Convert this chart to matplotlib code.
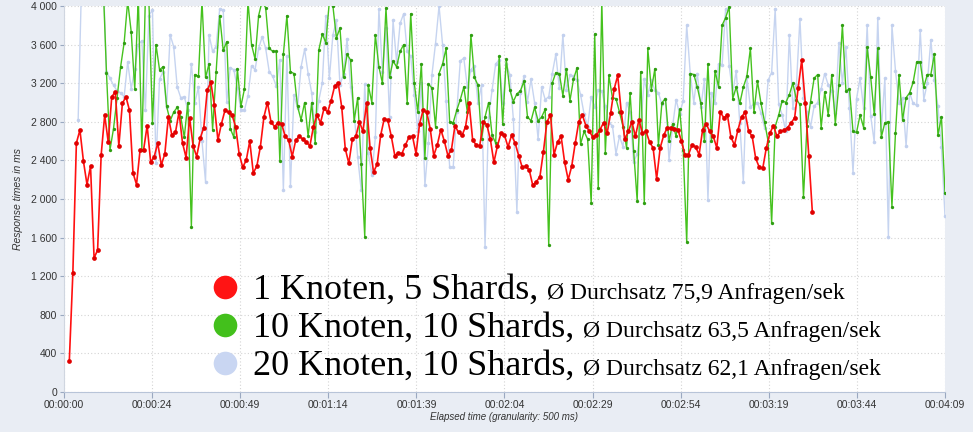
import numpy as np
import matplotlib
matplotlib.use('Agg')
import matplotlib.pyplot as plt

#------------------------------DATA (response times in ms, one value per second)------------------------------
red_start = 1.5   # seconds
red_ms = [320, 1230, 2580, 2715, 2390, 2150, 2340, 1390, 1470, 2455, 2870, 2590, 3060, 3110, 2550, 2990, 3060,
          2920, 2270, 2150, 2510, 2510, 2760, 2380, 2440, 2580, 2350, 2470, 2850, 2660, 2690, 2900, 2580, 2430, 2840,
          2550, 2440, 2630, 2740, 3130, 3210, 2970, 2610, 2780, 2920, 2900, 2870, 2750, 2470, 2330, 2400, 2600, 2270,
          2340, 2540, 2850, 3000, 2800, 2750, 2790, 2780, 2650, 2610, 2440, 2610, 2650, 2620, 2590, 2550, 2750,
          2870, 2790, 2940, 2900, 3020, 3170, 3200, 2950, 2520, 2370, 2620, 2650, 2800, 2700, 2990, 2530, 2280, 2360,
          2660, 2830, 2820, 2650, 2450, 2480, 2470, 2560, 2640, 2650, 2470, 2780, 2920, 2900, 2730, 2450, 2560,
          2720, 2600, 2450, 2510, 2760, 2690, 2660, 2750, 2990, 2610, 2560, 2550, 2800, 2770, 2620, 2380, 2550, 2680,
          2660, 2540, 2660, 2580, 2450, 2330, 2340, 2300, 2140, 2180, 2230, 2490, 2800, 2870, 2460, 2590, 2650,
          2380, 2200, 2340, 2580, 2800, 2870, 2760, 2700, 2640, 2660, 2720, 2790, 2680, 2890, 3140, 3280, 2900, 2620,
          2700, 2800, 2650, 2820, 2680, 2700, 2590, 2530, 2210, 2530, 2660, 2740, 2740, 2730, 2720, 2600, 2460,
          2460, 2560, 2540, 2460, 2720, 2780, 2700, 2650, 2530, 2900, 2840, 2870, 2640, 2560, 2720, 2850, 2900, 2700,
          2650, 2420, 2330, 2320, 2530, 2680, 2760, 2650, 2700, 2710, 2740, 2790, 2840, 3150, 3440, 3000, 2450, 1870]

green_start = 11
green_ms = [4300, 3310, 2510, 2730, 3050, 3370, 3620, 4050, 3730, 3140, 4100, 2510, 4100, 4050, 2790, 3600, 3340,
            3370, 2960, 2810, 2900, 2950, 2850, 2640, 3000,
            1710, 3290, 3270, 4050, 3260, 3400, 2720, 3320, 3900, 3540, 3630, 2730, 2640, 3350, 2960, 3140, 4050,
            3600, 3450, 3900, 4050, 3980, 3560, 3530, 3530, 2390, 3500, 3900, 3320, 3300, 2960, 2820, 3000, 2650, 3000,
            2580, 3540, 3710, 3620, 4050, 4000, 3670, 3770, 3260, 3500, 3440, 2810, 3050, 2360, 1610, 3180, 3000,
            3700, 3370, 3200, 3980, 3260, 3430, 3370, 3530, 3600, 3000, 3920, 3200, 2900, 3400, 2430, 3190, 3150, 2750,
            3300, 3400, 3560, 2800, 2790, 2920, 3030, 3160, 2900, 3700, 3260, 3180, 2620, 2850, 3000, 2660, 2580,
            3480, 2780, 3450, 3130, 3010, 3090, 3120, 3220, 2850, 2810, 2950, 2810, 2850, 2930, 1520, 3200, 3310,
            3300, 3070,
            3350, 3020, 3240, 3360, 2570, 2700, 2620, 1960, 3710, 2110, 4050, 2480, 3280, 3050, 3040, 2900, 2750,
            2530, 3100, 2500, 1980, 3320, 1960, 3560, 3130, 3350, 2560, 3000, 3040, 2600, 2780, 2650, 2930, 2510, 1550,
            3300, 3290, 3160, 2990, 2600, 3400, 2600, 3330, 3160, 3800, 3880, 3990, 3040, 3160, 2990, 3160, 3270,
            3560, 2900, 3220, 2990, 2800, 2600, 1750, 2750, 2870, 3020, 3000, 3080, 3200, 3030, 2980, 2020, 2760,
            3010, 3250,
            3290, 2740, 3110, 2870, 3290, 2780, 3180, 3800, 3120, 3140, 2700, 2690, 2870, 2740, 3570, 3260, 2880,
            3560, 2640, 2790, 2800, 1920, 2680, 3290, 2820, 3050, 3100, 3210, 3420, 3420, 3160, 3290, 3290, 3500,
            2660, 2850, 2060]

blue_start = 4
blue_ms = [2820, 4300, 4400, 4400, 4400, 4400, 4400, 4400, 3320, 3250, 3180, 3120, 3100, 3060, 3420, 3140, 3350,
           3600, 3640, 2920, 3900, 3960, 2370, 3240, 3320, 2950, 3700, 3580, 3160, 3050, 3060, 2920,
           3400, 3000, 3160, 2600, 2180, 3700, 3530, 3580, 3970, 3960, 3010, 3360, 3340, 3150, 2920, 2920, 3070,
           3380, 3340, 3560, 3680, 3560, 3320, 3270, 3170, 3440, 2090, 3480, 2130, 3080, 2940, 3370, 3550, 3300, 3100,
           2690, 3020, 3200, 3900, 3250, 3700, 3850, 3180, 3300, 3660, 3160, 2900, 2440, 2090, 3190, 2480, 2250,
           2640, 3970, 3320, 3770, 2850, 3850, 3420, 3820, 3920, 3530, 3480, 3080, 2700, 3200, 2140, 2580, 3290, 3610,
           4000, 3600, 3020, 2330, 2330, 2900, 3430, 3460, 3160, 3340, 3380, 2990, 3180, 1500, 2850, 3130, 3400,
           3440, 2990, 3400, 3290, 2830, 1870, 3100, 3270, 3010, 3240, 3000, 2620, 3160, 3030, 3060, 3300, 3500,
           3150, 3700,
           3130, 3280, 3270, 3230, 3080, 2880, 2750, 3060, 2950, 3130, 3120, 2960, 2790, 2760, 2470, 2650, 2540,
           3000, 2900, 2380, 2470, 2750, 3240, 3080, 3230, 3130, 3100, 2980, 3040, 2400, 2750, 3030, 2880, 3020, 3800,
           3300, 3000, 3300, 2950, 3240, 1990, 3100, 2990, 3400, 3390, 3970, 3380, 3100, 3330, 2790, 2180, 3260,
           2950, 2990, 3000, 2890, 2740, 3230, 3310, 3970, 2980, 2870, 2700, 3700, 2940, 3180, 3870, 3050, 2900,
           2750, 2960,
           3000, 3140, 3300, 3180, 3120, 2890, 3620, 3200, 3570, 2940, 2270, 3040, 3250, 2940, 3800, 2860, 2590,
           3880, 2720, 3250, 1610, 3800, 3330, 3000, 3050, 2550, 3100, 2990, 2970, 3750, 3030, 3200, 3650, 3230,
           2960, 2540, 1820]

x_tick_labels = ['00:00:00', '00:00:24', '00:00:49', '00:01:14', '00:01:39', '00:02:04',
                 '00:02:29', '00:02:54', '00:03:19', '00:03:44', '00:04:09']
y_ticks = [0, 400, 800, 1200, 1600, 2000, 2400, 2800, 3200, 3600, 4000]
legend_main = ['1 Knoten, 5 Shards,', '10 Knoten, 10 Shards,', '20 Knoten, 10 Shards,']
legend_sub = ['Ø Durchsatz 75,9 Anfragen/sek', 'Ø Durchsatz 63,5 Anfragen/sek', 'Ø Durchsatz 62,1 Anfragen/sek']

#------------------------------FIGURE-------------------------------------------------
fig = plt.figure(figsize=(9.73, 4.32), dpi=100, facecolor='#e9edf4')
ax = fig.add_axes([64 / 973, 40 / 432, 881 / 973, 386 / 432])
ax.set_facecolor('white')

red_t = red_start + np.arange(len(red_ms))
green_t = green_start + np.arange(len(green_ms))
blue_t = blue_start + np.arange(len(blue_ms))

# blue at the back, then green, red on top
ax.plot(blue_t, blue_ms, color='#c6d4f0', linewidth=1.0, marker='o', markersize=2.6,
        markerfacecolor='#c2d0ee', markeredgewidth=0, zorder=2)
ax.plot(green_t, green_ms, color='#45c21e', linewidth=1.0, marker='o', markersize=2.4,
        markerfacecolor='#2f9e12', markeredgewidth=0, zorder=3)
ax.plot(red_t, red_ms, color='#ff1010', linewidth=1.2, marker='o', markersize=3.4,
        markerfacecolor='#e00000', markeredgewidth=0, zorder=4)

ax.set_xlim(0, 249)
ax.set_ylim(0, 4000)
ax.set_xticks(np.linspace(0, 249, len(x_tick_labels)))
ax.set_xticklabels(x_tick_labels, fontsize=7.5, family='Liberation Sans', color='#333333')
ax.set_yticks(y_ticks)
ax.set_yticklabels([f"{v:,}".replace(',', ' ') for v in y_ticks], fontsize=7.5,
                   family='Liberation Sans', color='#333333')

ax.grid(color='#d4d4d4', linestyle=(0, (1, 2)), linewidth=0.8)
ax.set_axisbelow(True)
for s in ['top', 'right']:
    ax.spines[s].set_visible(False)
ax.spines['bottom'].set_color('#b8c4d8')
ax.spines['left'].set_color('#d0d6e0')
ax.tick_params(axis='x', colors='#9aa8c0', length=4, labelcolor='#333333', pad=2)
ax.tick_params(axis='y', colors='#9aa8c0', length=3, labelcolor='#333333', pad=2)

ax.set_xlabel('Elapsed time (granularity: 500 ms)', fontsize=7, style='italic',
              family='Liberation Sans', color='#333333', labelpad=1)
ax.set_ylabel('Response times in ms', fontsize=7.5, style='italic',
              family='Liberation Sans', color='#333333', labelpad=6)

#------------------------------CUSTOM LEGEND-------------------------------------------------
legend_colors = ['#ff1414', '#43c01c', '#c9d6f2']
row_centre = [287, 325, 363]   # pixel rows (from top) of the legend circles
row_base = [299, 337, 375]
big_texts = []
for i in range(3):
    yc = (392 - row_centre[i]) / 386
    ax.plot([(225 - 64) / 881], [yc], 'o', color=legend_colors[i], markersize=17,
            markeredgewidth=0, transform=ax.transAxes, clip_on=False, zorder=6)
    t = ax.text((253 - 64) / 881, (392 - row_base[i]) / 386, legend_main[i], transform=ax.transAxes,
                fontsize=26, family='Liberation Serif', va='baseline', ha='left', color='black', zorder=6)
    big_texts.append(t)

fig.canvas.draw()
r = fig.canvas.get_renderer()
for i, t in enumerate(big_texts):
    bb = t.get_window_extent(r)
    x0 = ax.transAxes.inverted().transform((bb.x1 + 9, 0))[0]
    ax.text(x0, (392 - row_base[i]) / 386, legend_sub[i], transform=ax.transAxes,
            fontsize=17, family='Liberation Serif', va='baseline', ha='left', color='black', zorder=6)

fig.savefig('out.png', dpi=100, facecolor=fig.get_facecolor())
